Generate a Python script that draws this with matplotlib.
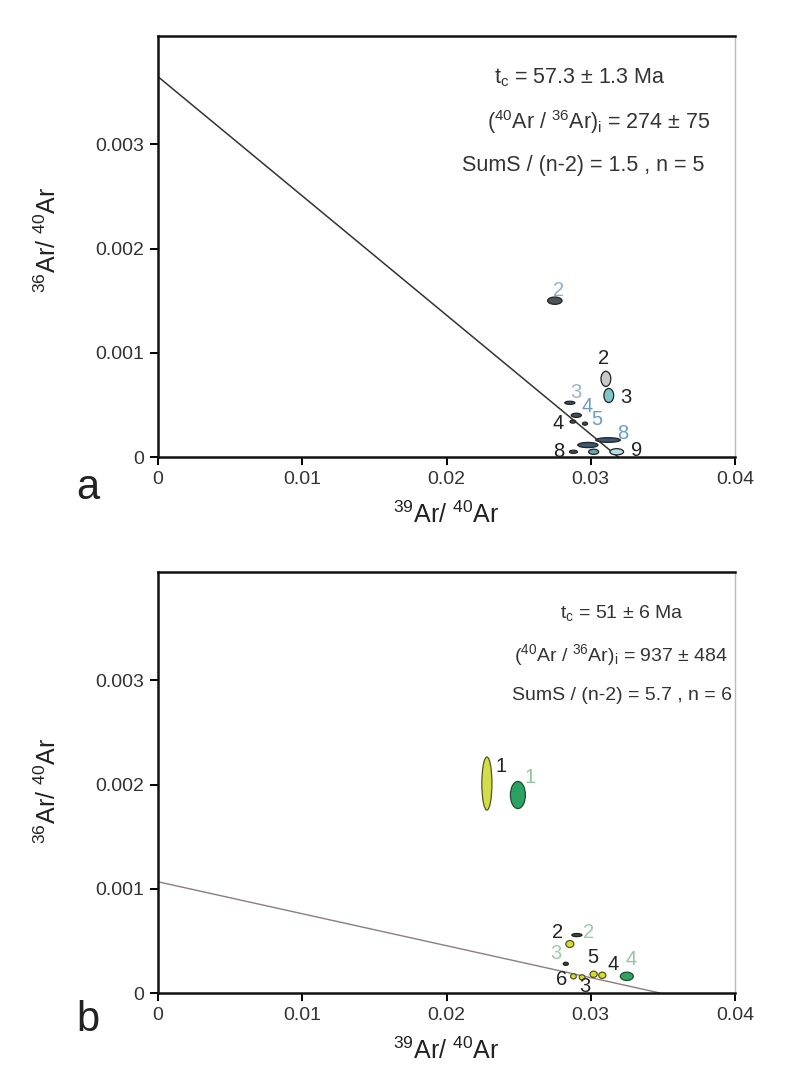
import matplotlib
matplotlib.use("Agg")
import matplotlib.pyplot as plt
from matplotlib.patches import Ellipse

plt.rcParams['font.family'] = ['Liberation Sans', 'DejaVu Sans']
plt.rcParams['mathtext.fontset'] = 'custom'
plt.rcParams['mathtext.rm'] = 'Liberation Sans'
plt.rcParams['mathtext.it'] = 'Liberation Sans:italic'
plt.rcParams['mathtext.default'] = 'regular'

# ---------------- data ----------------
x_ticks = [0, 0.01, 0.02, 0.03, 0.04]
x_ticklabels = ['0', '0.01', '0.02', '0.03', '0.04']
y_ticks = [0, 0.001, 0.002, 0.003]
y_ticklabels = ['0', '0.001', '0.002', '0.003']

# panel a: isochron regression
a_intercept = 1 / 274.0          # 36Ar/40Ar at 39Ar/40Ar = 0
a_x_intercept = 0.0319
a_stats = [r't$_c$ = 57.3 ± 1.3 Ma',
           r'($^{40}$Ar / $^{36}$Ar)$_i$ = 274 ± 75',
           'SumS / (n-2) = 1.5 , n = 5']

# panel a: error ellipses (39Ar/40Ar, 36Ar/40Ar, widths, fill)
a_x = [0.02751, 0.03105, 0.03125, 0.02855, 0.02900, 0.02876, 0.02960,
       0.02980, 0.03120, 0.02880, 0.03020, 0.03180]
a_y = [0.00150, 0.00075, 0.00059, 0.00052, 0.00040, 0.00034, 0.00032,
       0.000115, 0.000163, 0.00005, 0.00005, 0.00005]
a_w = [0.00100, 0.00068, 0.00068, 0.00070, 0.00070, 0.00040, 0.00035,
       0.00140, 0.00170, 0.00055, 0.00070, 0.00095]
a_h = [0.000070, 0.000145, 0.000135, 0.000030, 0.000040, 0.000030, 0.000030,
       0.000050, 0.000045, 0.000030, 0.000050, 0.000060]
a_fill = ['#4f5459', '#c9c9c9', '#7ec6ca', '#3f4f5e', '#3f4f5e', '#3f4f5e',
          '#3f4f5e', '#3b5874', '#3b5874', '#3f4f5e', '#6aa2b2', '#b2dde2']
a_labels = ['2', '2', '3', '3', '4', '4', '5', '', '8', '8', '', '9']
a_label_x = [0.02775, 0.0309, 0.03243, 0.02897, 0.02973, 0.02772, 0.03042,
             0, 0.03222, 0.02779, 0, 0.0332]
a_label_y = [0.00160, 0.00095, 0.000575, 0.00062, 0.00048, 0.000326, 0.000364,
             0, 0.00023, 0.00005, 0, 0.00006]
a_label_col = ['#8fb0cc', '#222222', '#222222', '#9ab4cc', '#6a9cc8', '#222222',
               '#6a9cc8', '#222222', '#6a9cc8', '#222222', '#222222', '#222222']

# panel b: isochron regression
b_intercept = 1 / 937.0
b_x_intercept = 0.0348
b_stats = [r't$_c$ = 51 ± 6 Ma',
           r'($^{40}$Ar / $^{36}$Ar)$_i$ = 937 ± 484',
           'SumS / (n-2) = 5.7 , n = 6']

b_x = [0.02280, 0.02495, 0.02904, 0.02855, 0.02827, 0.02880, 0.02940,
       0.03020, 0.03080, 0.03250]
b_y = [0.00201, 0.00190, 0.000556, 0.00047, 0.00028, 0.00016, 0.00015,
       0.00018, 0.00017, 0.00016]
b_w = [0.00070, 0.00104, 0.00070, 0.00055, 0.00035, 0.00040, 0.00040,
       0.00050, 0.00050, 0.00090]
b_h = [0.00051, 0.00026, 0.000030, 0.000067, 0.000030, 0.000050, 0.000050,
       0.000060, 0.000060, 0.000080]
b_fill = ['#d3dc4a', '#2aa262', '#3a4a40', '#d6dc30', '#3a4a40', '#d6dc30',
          '#d6dc30', '#d6dc30', '#d6dc30', '#30a262']
b_edge = ['#55561e', '#1d4d30', '#222222', '#55561e', '#222222', '#55561e',
          '#55561e', '#55561e', '#55561e', '#1d4d30']
b_labels = ['1', '1', '2', '2', '3', '6', '3', '5', '4', '4']
b_label_x = [0.02377, 0.02578, 0.02987, 0.02772, 0.02758, 0.02800, 0.02959,
             0.03015, 0.03153, 0.03278]
b_label_y = [0.00217, 0.00207, 0.000585, 0.000585, 0.00038, 0.000125, 0.00006,
             0.000345, 0.00027, 0.00032]
b_label_col = ['#222222', '#8cc8a0', '#9ccca8', '#222222', '#9ccca8', '#222222',
               '#222222', '#222222', '#222222', '#8cc8a0']

# ---------------- figure ----------------
W, H = 792, 1076
fig = plt.figure(figsize=(W / 100, H / 100), dpi=100)

def px_axes(left, right, top, bottom):
    return fig.add_axes([left / W, 1 - bottom / H, (right - left) / W, (bottom - top) / H])

ax_a = px_axes(158, 735, 36, 457)
ax_b = px_axes(158, 735, 572, 993)

def style(ax, ylab_y):
    ax.set_xlim(0, 0.04)
    ax.set_ylim(0, 0.00404)
    ax.set_xticks(x_ticks)
    ax.set_xticklabels(x_ticklabels)
    ax.set_yticks(y_ticks)
    ax.set_yticklabels(y_ticklabels)
    ax.tick_params(direction='out', length=6, width=1.4, labelsize=14,
                   labelcolor='#333333', pad=4)
    for s in ['left', 'bottom', 'top']:
        ax.spines[s].set_linewidth(1.8)
        ax.spines[s].set_color('#111111')
    ax.spines['right'].set_linewidth(1.0)
    ax.spines['right'].set_color('#bbbbbb')
    ax.set_xlabel(r'$^{39}$Ar/ $^{40}$Ar', fontsize=18, color='#222222')
    ax.set_ylabel(r'$^{36}$Ar/ $^{40}$Ar', fontsize=18, color='#222222')
    ax.xaxis.set_label_coords(0.50, -0.105)
    ax.yaxis.set_label_coords(-0.168, ylab_y)

def draw_ellipses(ax, xs, ys, ws, hs, fills, edges):
    for x, y, w, h, fc, ec in zip(xs, ys, ws, hs, fills, edges):
        ax.add_patch(Ellipse((x, y), w, h, facecolor=fc, edgecolor=ec,
                             linewidth=0.9, zorder=3))

def draw_labels(ax, labels, lx, ly, cols):
    for t, x, y, c in zip(labels, lx, ly, cols):
        if t:
            ax.text(x, y, t, fontsize=14.5, color=c, ha='center', va='center', zorder=4)

# panel a
style(ax_a, 0.515)
ax_a.plot([0, a_x_intercept], [a_intercept, 0], color='#333333', lw=1.1, zorder=2)
draw_ellipses(ax_a, a_x, a_y, a_w, a_h, a_fill, ['#222222'] * len(a_x))
draw_labels(ax_a, a_labels, a_label_x, a_label_y, a_label_col)
for txt, cx, cy in zip(a_stats, [580, 599, 583], [78, 122, 166]):
    fig.text(cx / W, 1 - cy / H, txt, fontsize=15.5, color='#333333',
             ha='center', va='center')
fig.text(88 / W, 1 - 488 / H, 'a', fontsize=30, color='#222222', ha='center', va='center')

# panel b
style(ax_b, 0.48)
ax_b.plot([0, b_x_intercept], [b_intercept, 0], color='#8c7d7d', lw=1.0, zorder=2)
draw_ellipses(ax_b, b_x, b_y, b_w, b_h, b_fill, b_edge)
draw_labels(ax_b, b_labels, b_label_x, b_label_y, b_label_col)
for txt, cx, cy in zip(b_stats, [622, 621, 622], [613, 655, 695]):
    fig.text(cx / W, 1 - cy / H, txt, fontsize=14, color='#333333',
             ha='center', va='center')
fig.text(88 / W, 1 - 1020 / H, 'b', fontsize=30, color='#222222', ha='center', va='center')

fig.savefig('out.png', dpi=100, facecolor='white')
